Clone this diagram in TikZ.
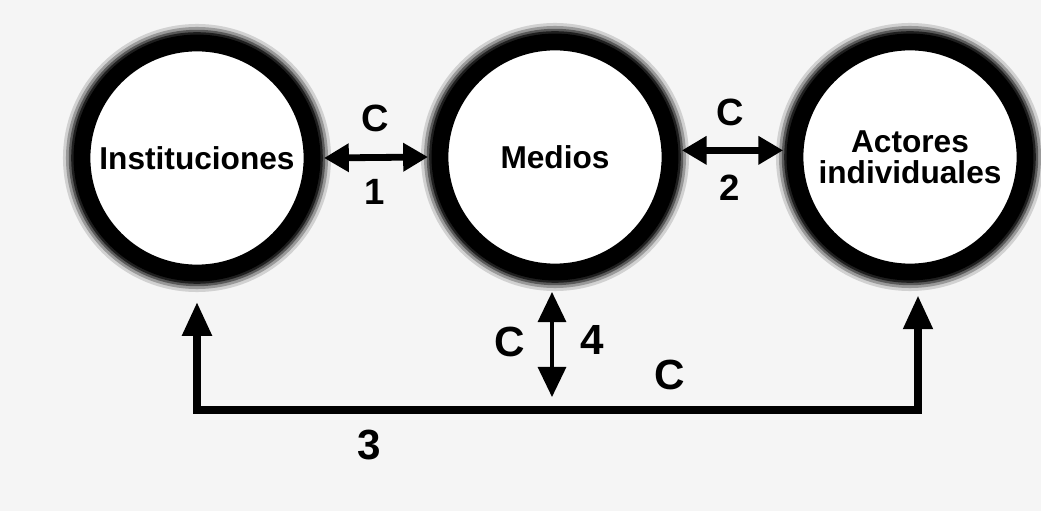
\documentclass[tikz,border=0pt]{standalone}
\usepackage{fontspec}
\setmainfont{Liberation Sans}
\usetikzlibrary{arrows.meta}

\begin{document}
\begin{tikzpicture}[x=0.025cm,y=-0.025cm,actor/.style={circle,draw=black,fill=white,line width=0.42cm,minimum size=5.75cm,inner sep=0pt,outer sep=0.3cm,align=center,font=\fontsize{22.5}{22}\selectfont\bfseries,preaction={draw=black!18,line width=0.95cm},preaction={draw=black!40,line width=0.8cm},preaction={draw=black!65,line width=0.66cm},preaction={draw=black!88,line width=0.54cm}},link/.style={line width=0.17cm,{Triangle[length=0.62cm,width=0.68cm]}-{Triangle[length=0.62cm,width=0.68cm]}},vlink/.style={line width=0.08cm,{Triangle[length=0.75cm,width=0.7cm]}-{Triangle[length=0.75cm,width=0.7cm]}},feedback/.style={line width=0.2cm,line join=miter,{Triangle[length=0.85cm,width=0.7cm]}-{Triangle[length=0.85cm,width=0.7cm]}},clab/.style={font=\fontsize{27}{27}\selectfont\bfseries,inner sep=0pt},nlab/.style={font=\fontsize{26}{26}\selectfont\bfseries,inner sep=0pt},lowlab/.style={font=\fontsize{30}{30}\selectfont\bfseries,inner sep=0pt}]
\useasboundingbox (0,0) rectangle (1041,511);
\fill[black!4] (0,0) rectangle (1041,511);
\node[actor] (inst) at (197,158) {Instituciones};
\node[actor] (medios) at (555,157) {Medios};
\node[actor] (actores) at (910,157) {Actores\\individuales};
\draw[link] (inst.east) -- (medios.west);
\draw[link] (medios.3) -- (actores.177);
\node[clab] (c1) at (375,118) {C};
\node[nlab] (n1) at (375,192) {1};
\node[clab] (c2) at (730,112) {C};
\node[nlab] (n2) at (730,188) {2};
% medios hacia abajo
\coordinate (m4) at (552,397);
\draw[vlink,shorten <=0.2cm] (m4 |- medios.south) -- (m4);
\node[lowlab] (c4) at (510,342) {C};
\node[lowlab] (n4) at (592,340) {4};
% instituciones - actores
\coordinate (lo) at (555,410);
\draw[feedback] ([yshift=-0.42cm]inst.south) |- (lo) -| ([xshift=0.2cm,yshift=-0.28cm]actores.south);
\node[lowlab] (c3) at (670,375) {C};
\node[lowlab] (n3) at (369,445) {3};
\end{tikzpicture}
\end{document}
